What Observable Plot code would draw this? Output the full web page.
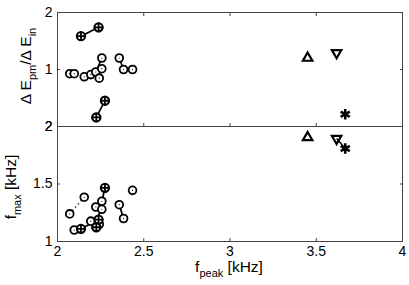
<!DOCTYPE html>
<html><head><meta charset="utf-8">
<script src="https://cdn.jsdelivr.net/npm/d3@7"></script>
<script src="https://cdn.jsdelivr.net/npm/@observablehq/plot@0.6"></script>
<style>
body{margin:0;background:#fff;}
#wrap{position:relative;width:409px;height:285px;font-family:"Liberation Sans",Arial,sans-serif;}
#wrap svg{position:absolute;left:0;}
</style></head><body><div id="wrap"></div>
<script>
// open circles
const openF     = [2.071, 2.097, 2.155, 2.193, 2.222, 2.242, 2.257, 2.257, 2.358, 2.383, 2.435];
const openRatio = [0.95, 0.95, 0.915, 0.94, 0.97, 0.90, 1.01, 1.15, 1.15, 1.00, 1.00];
const openFmax  = [1.24, 1.10, 1.385, 1.177, 1.30, 1.15, 1.28, 1.35, 1.32, 1.20, 1.445];
// circles with plus
const plusF     = [2.136, 2.238, 2.225, 2.275];
const plusRatio = [1.50, 1.67, 0.558, 0.684];
const plusFmax  = [1.11, 1.19, 1.124, 1.467];
// special markers
const specF     = [3.450, 3.618, 3.668];
const specRatio = [1.15, 1.225, 0.58];
const specFmax  = [1.905, 1.895, 1.808];
const specSym   = ["triangle", "triangleDown", "asterisk"];
// links (index pairs)
const plusLinks = [[0,1],[2,3]];
const openLinksTop = [[7,4],[8,9]];
const openLinksBot = [[7,4],[8,9]];
const openDottedBot = [[0,2]];
const specLinksBot = [[1,2]];
// ticks
const xTicks = [2, 2.5, 3, 3.5, 4];
const xInner = [2.5, 3, 3.5];
const ratioTicks = [0.5, 1, 2];
const fmaxTicks = [1, 1.5, 2];

const triDown = {draw(ctx, size){const y=-Math.sqrt(size/(Math.sqrt(3)*3));ctx.moveTo(0,-y*2);ctx.lineTo(-Math.sqrt(3)*y,y);ctx.lineTo(Math.sqrt(3)*y,y);ctx.closePath();}};
const symOf = s => s === "triangleDown" ? triDown : s;

const open = openF.map((f,i)=>({f, r:openRatio[i], m:openFmax[i]}));
const plus = plusF.map((f,i)=>({f, r:plusRatio[i], m:plusFmax[i]}));
const spec = specF.map((f,i)=>({f, r:specRatio[i], m:specFmax[i], s:specSym[i]}));
const seg = (arr, pairs) => pairs.map(([a,b])=>({f1:arr[a].f,f2:arr[b].f,r1:arr[a].r,r2:arr[b].r,m1:arr[a].m,m2:arr[b].m}));

const FONT = '"Liberation Sans",Arial,sans-serif';
const frameCol = "#444";
const common = {width:409, marginLeft:57, marginRight:7, style:{background:"none", overflow:"visible", fontFamily:FONT}, x:{domain:[2,4]}};

function markersFor(key, k1, k2, links, dotted, specLinks){
  return [
    ...links.map(L=>Plot.link(L.data,{x1:"f1",x2:"f2",y1:k1,y2:k2,stroke:"black",strokeWidth:1.7})),
    ...(dotted? [Plot.link(dotted,{x1:"f1",x2:"f2",y1:k1,y2:k2,stroke:"black",strokeWidth:1.4,strokeDasharray:"1.2,3"})]:[]),
    ...(specLinks? [Plot.link(specLinks,{x1:"f1",x2:"f2",y1:k1,y2:k2,stroke:"black",strokeWidth:1.4})]:[]),
    Plot.dot(open,{x:"f",y:key,r:3.9,stroke:"black",strokeWidth:1.8,fill:"white"}),
    Plot.dot(open,{x:"f",y:key,r:0.6,fill:"black"}),
    Plot.dot(plus,{x:"f",y:key,r:4.1,stroke:"black",strokeWidth:2.1,fill:"white"}),
    Plot.dot(plus,{x:"f",y:key,r:3.2,symbol:"plus",stroke:"black",strokeWidth:1.8}),
    Plot.dot(spec,{filter:d=>d.s!=="asterisk",x:"f",y:key,r:3.5,symbol:d=>symOf(d.s),stroke:"black",strokeWidth:2.2,fill:"none"}),
    Plot.dot(spec,{filter:d=>d.s==="asterisk",x:"f",y:key,r:5,symbol:"asterisk",stroke:"black",strokeWidth:2.6})
  ];
}

const topPlot = Plot.plot({...common, height:132, marginTop:12, marginBottom:6,
  y:{type:"log", base:2, domain:[0.5,2]},
  marks:[
    Plot.frame({stroke:frameCol}),
    Plot.axisY({ticks:ratioTicks, tickFormat:d=>String(d<1?1/d:d), tickSize:0, tickPadding:5, fontSize:14, label:null}),
    Plot.axisY({ticks:[1], tickSize:-3, text:null, label:null, stroke:frameCol}),
    Plot.axisY({anchor:"right", ticks:[1], tickSize:-3, text:null, label:null, stroke:frameCol}),
    Plot.axisX({anchor:"top", ticks:xInner, tickSize:-3, text:null, label:null, stroke:frameCol}),
    Plot.axisX({anchor:"bottom", ticks:xInner, tickSize:-3, text:null, label:null, stroke:frameCol}),
    ...markersFor("r","r1","r2",[{data:seg(plus,plusLinks)},{data:seg(open,openLinksTop)}],null,null)
  ]});
topPlot.style.top = "0px";

const botPlot = Plot.plot({...common, height:165, marginTop:6, marginBottom:44,
  y:{domain:[1,2]},
  marks:[
    Plot.frame({stroke:frameCol}),
    Plot.axisY({ticks:fmaxTicks, tickFormat:d=>String(d), tickSize:0, tickPadding:5, fontSize:14, label:null}),
    Plot.axisY({anchor:"right", ticks:[1.5], tickSize:-3, text:null, label:null, stroke:frameCol}),
    Plot.axisY({ticks:[1.5], tickSize:-3, text:null, label:null, stroke:frameCol}),
    Plot.axisX({ticks:xTicks, tickFormat:d=>String(d), tickSize:0, tickPadding:5, fontSize:14, label:null}),
    Plot.axisX({ticks:xInner, tickSize:-3, text:null, label:null, stroke:frameCol}),
    ...markersFor("m","m1","m2",[{data:seg(plus,plusLinks)},{data:seg(open,openLinksBot)}],seg(open,openDottedBot),seg(spec,specLinksBot))
  ]});
botPlot.style.top = "120px";

const wrap = document.getElementById("wrap");
wrap.appendChild(topPlot);
wrap.appendChild(botPlot);

function label(svg, x, y, rot, parts, fs){
  const t = d3.select(svg).append("text")
    .attr("transform", `translate(${x},${y}) rotate(${rot})`)
    .attr("text-anchor","middle").attr("font-family",FONT).attr("font-size",fs).attr("fill","black");
  let shift = 0;
  parts.forEach(([s,sub])=>{
    const dy = sub ? 5 - shift : -shift;
    shift = sub ? 5 : 0;
    t.append("tspan").attr("dy",dy).attr("font-size",sub?Math.round(fs*0.72):fs).text(s);
  });
}
label(topPlot, 31, 66, -90, [["Δ E",0],["pm",1],["/Δ E",0],["in",1]], 15.5);
label(botPlot, 16, 67, -90, [["f",0],["max",1],[" [kHz]",0]], 15.5);
label(botPlot, 229, 152, 0, [["f",0],["peak",1],[" [kHz]",0]], 15.5);
</script></body></html>
